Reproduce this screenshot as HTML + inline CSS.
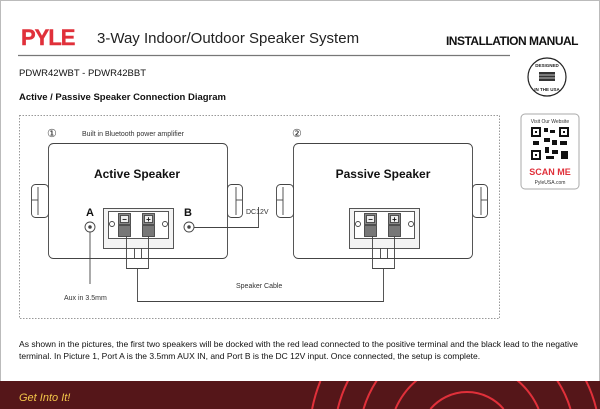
<!DOCTYPE html>
<html><head><meta charset="utf-8"><style>
html,body{margin:0;padding:0;background:#fff;width:600px;height:409px;overflow:hidden}
svg{display:block;overflow:hidden}
text{font-family:"Liberation Sans",sans-serif}
</style></head><body>
<svg width="600" height="409" viewBox="0 0 600 409" xmlns="http://www.w3.org/2000/svg">
<rect x="0.5" y="0.5" width="599" height="408" fill="#fff" stroke="#bbb"/>
<text x="21" y="45" font-size="22" font-weight="bold" fill="#e0303a" stroke="#e0303a" stroke-width="0.4" letter-spacing="-1">PYLE</text>
<text x="97" y="43" font-size="15" fill="#222">3-Way Indoor/Outdoor Speaker System</text>
<text x="578" y="45" font-size="12" font-weight="bold" fill="#111" text-anchor="end" letter-spacing="-0.5">INSTALLATION MANUAL</text>
<line x1="18" y1="55.5" x2="510" y2="55.5" stroke="#777" stroke-width="1.2"/>
<text x="19" y="76" font-size="9.5" fill="#111">PDWR42WBT - PDWR42BBT</text>
<text x="19" y="100" font-size="9.5" font-weight="bold" fill="#111">Active / Passive Speaker Connection Diagram</text>
<circle cx="547" cy="77" r="19" fill="#fff" stroke="#222" stroke-width="1.2"/>
<rect x="539" y="72" width="16" height="9" fill="#333"/>
<line x1="539" y1="75" x2="555" y2="75" stroke="#fff" stroke-width="0.7"/>
<line x1="539" y1="78" x2="555" y2="78" stroke="#fff" stroke-width="0.7"/>
<text x="547" y="67" font-size="4.5" font-weight="bold" text-anchor="middle" fill="#222">DESIGNED</text>
<text x="547" y="91" font-size="4.5" font-weight="bold" text-anchor="middle" fill="#222">IN THE USA</text>
<rect x="521" y="114" width="58" height="75" rx="4" fill="#fff" stroke="#aaa"/>
<text x="550" y="123" font-size="5" text-anchor="middle" fill="#333">Visit Our Website</text>
<g fill="#111">
<rect x="531" y="127" width="10" height="10"/><rect x="559" y="127" width="10" height="10"/><rect x="531" y="150" width="10" height="10"/>
<rect x="544" y="128" width="4" height="4"/><rect x="550" y="130" width="5" height="3"/><rect x="544" y="138" width="6" height="4"/>
<rect x="552" y="140" width="5" height="5"/><rect x="533" y="141" width="6" height="4"/><rect x="560" y="141" width="7" height="4"/>
<rect x="545" y="147" width="4" height="6"/><rect x="552" y="150" width="6" height="4"/><rect x="561" y="151" width="7" height="8"/>
<rect x="546" y="156" width="8" height="3"/>
</g>
<g fill="#fff"><rect x="533" y="129" width="6" height="6"/><rect x="561" y="129" width="6" height="6"/><rect x="533" y="152" width="6" height="6"/></g>
<g fill="#111"><rect x="535" y="131" width="2" height="2"/><rect x="563" y="131" width="2" height="2"/><rect x="535" y="154" width="2" height="2"/></g>
<text x="550" y="175" font-size="9" font-weight="bold" text-anchor="middle" fill="#e0303a">SCAN ME</text>
<text x="550" y="184" font-size="5" text-anchor="middle" fill="#333">PyleUSA.com</text>
<rect x="19.5" y="115.5" width="480" height="203" fill="none" stroke="#999" stroke-dasharray="1.5,1.5"/>
<text x="47" y="137" font-size="11" fill="#222">①</text>
<text x="82" y="136" font-size="7" fill="#333">Built in Bluetooth power amplifier</text>
<text x="292" y="137" font-size="11" fill="#222">②</text>
<g stroke="#444" fill="none" stroke-width="0.9">
<rect x="48.5" y="143.5" width="179" height="115" rx="5" fill="#fff"/>
<rect x="31.5" y="184.5" width="17" height="33" rx="4" fill="#fff"/>
<line x1="38" y1="187" x2="38" y2="215"/><line x1="31.5" y1="200" x2="38" y2="200"/>
<rect x="227.5" y="184.5" width="15" height="33" rx="4" fill="#fff"/>
<line x1="236" y1="187" x2="236" y2="215"/><line x1="236" y1="200" x2="242" y2="200"/>
<rect x="293.5" y="143.5" width="179" height="115" rx="5" fill="#fff"/>
<rect x="276.5" y="184.5" width="17" height="33" rx="4" fill="#fff"/>
<line x1="283" y1="187" x2="283" y2="215"/><line x1="276.5" y1="200" x2="283" y2="200"/>
<rect x="472.5" y="184.5" width="15" height="33" rx="4" fill="#fff"/>
<line x1="481" y1="187" x2="481" y2="215"/><line x1="481" y1="200" x2="487" y2="200"/>
</g>
<text x="137" y="178" font-size="12" font-weight="bold" text-anchor="middle" fill="#111">Active Speaker</text>
<text x="383" y="178" font-size="12" font-weight="bold" text-anchor="middle" fill="#111">Passive Speaker</text>
<g stroke="#444" stroke-width="0.9">
<rect x="103.5" y="208.5" width="70" height="40" fill="#f4f4f4"/>
<rect x="108.5" y="211.5" width="60" height="27" fill="#fff"/>
<circle cx="112" cy="224" r="2.5" fill="#fff"/><circle cx="165" cy="224" r="2.5" fill="#fff"/>
<rect x="118.5" y="213.5" width="12" height="11" fill="#888"/>
<rect x="120.5" y="215.5" width="8" height="7" fill="#eee"/>
<rect x="142.5" y="213.5" width="12" height="11" fill="#888"/>
<rect x="144.5" y="215.5" width="8" height="7" fill="#eee"/>
<rect x="118.5" y="225.5" width="12" height="11" fill="#777"/>
<rect x="142.5" y="225.5" width="12" height="11" fill="#777"/>
</g>
<text x="124.5" y="222" font-size="8" font-weight="bold" text-anchor="middle" fill="#111">−</text>
<text x="148.5" y="222" font-size="8" font-weight="bold" text-anchor="middle" fill="#111">+</text>
<g stroke="#444" stroke-width="0.9">
<rect x="349.5" y="208.5" width="70" height="40" fill="#f4f4f4"/>
<rect x="354.5" y="211.5" width="60" height="27" fill="#fff"/>
<circle cx="358" cy="224" r="2.5" fill="#fff"/><circle cx="411" cy="224" r="2.5" fill="#fff"/>
<rect x="364.5" y="213.5" width="12" height="11" fill="#888"/>
<rect x="366.5" y="215.5" width="8" height="7" fill="#eee"/>
<rect x="388.5" y="213.5" width="12" height="11" fill="#888"/>
<rect x="390.5" y="215.5" width="8" height="7" fill="#eee"/>
<rect x="364.5" y="225.5" width="12" height="11" fill="#777"/>
<rect x="388.5" y="225.5" width="12" height="11" fill="#777"/>
</g>
<text x="370.5" y="222" font-size="8" font-weight="bold" text-anchor="middle" fill="#111">−</text>
<text x="394.5" y="222" font-size="8" font-weight="bold" text-anchor="middle" fill="#111">+</text>
<g stroke="#444" fill="none" stroke-width="0.9">
<polyline points="126.5,236 126.5,268.5 148.5,268.5 148.5,236"/>
<line x1="134.5" y1="248" x2="134.5" y2="258"/><line x1="141.5" y1="248" x2="141.5" y2="258"/>
<polyline points="372.5,236 372.5,268.5 394.5,268.5 394.5,236"/>
<line x1="380.5" y1="248" x2="380.5" y2="258"/><line x1="387.5" y1="248" x2="387.5" y2="258"/>
<polyline points="137.5,268.5 137.5,301.5 383.5,301.5 383.5,268.5"/>
<circle cx="90" cy="227" r="5" fill="#fff"/><circle cx="90" cy="227" r="1.3" fill="#444"/>
<circle cx="189" cy="227" r="5" fill="#fff"/><circle cx="189" cy="227" r="1.3" fill="#444"/>
<line x1="90" y1="232" x2="90" y2="284"/>
<polyline points="194,227.5 258.5,227.5 258.5,207"/>
</g>
<text x="90" y="216" font-size="11" font-weight="bold" text-anchor="middle" fill="#111">A</text>
<text x="188" y="216" font-size="11" font-weight="bold" text-anchor="middle" fill="#111">B</text>
<text x="246" y="214" font-size="7" fill="#333">DC12V</text>
<text x="64" y="300" font-size="7" fill="#333">Aux in 3.5mm</text>
<text x="236" y="288" font-size="7" fill="#333">Speaker Cable</text>
<text x="19" y="347" font-size="8.5" fill="#111" textLength="559" lengthAdjust="spacingAndGlyphs">As shown in the pictures, the first two speakers will be docked with the red lead connected to the positive terminal and the black lead to the negative</text>
<text x="19" y="359" font-size="8.5" fill="#111">terminal. In Picture 1, Port A is the 3.5mm AUX IN, and Port B is the DC 12V input. Once connected, the setup is complete.</text>
<rect x="0" y="381" width="600" height="28" fill="#551619"/>
<clipPath id="fc"><rect x="0" y="381" width="600" height="28"/></clipPath>
<g clip-path="url(#fc)" fill="none" stroke="#e0303a" stroke-width="2">
<path d="M430.4 409 A48 48 0 0 1 503.6 409"/>
<path d="M395.4 409 A78 78 0 0 1 538.6 409"/>
<path d="M363.5 409 A108 108 0 0 1 570.5 409"/>
<path d="M337.7 409 A133 133 0 0 1 596.3 409"/>
<path d="M312.1 409 A158 158 0 0 1 320.4 381"/>
</g>
<text x="19" y="401" font-size="11" fill="#f3c64a" font-style="italic">Get Into It!</text>
</svg>
</body></html>
